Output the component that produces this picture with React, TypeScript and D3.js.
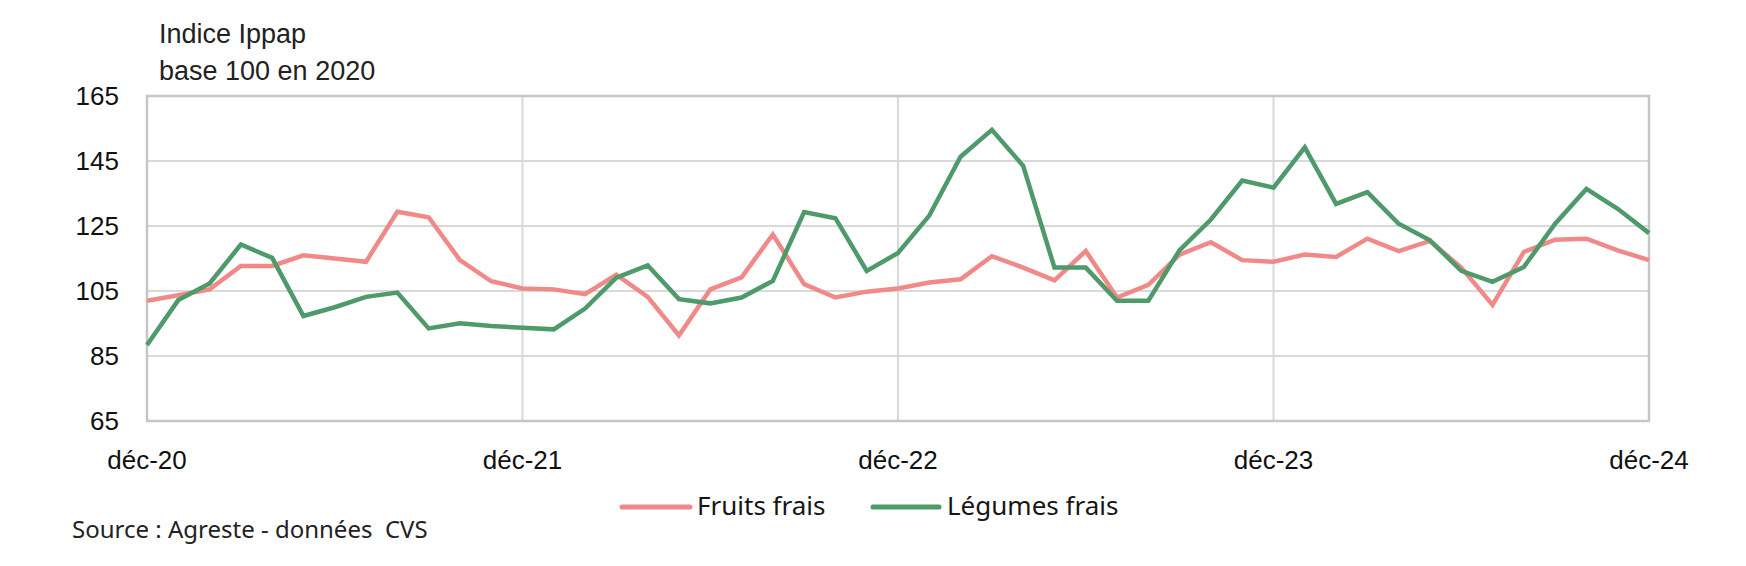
import React from "react";
import * as d3 from "d3";

const months: string[] = d3
  .timeMonth.range(new Date(2020, 11, 1), new Date(2025, 0, 1))
  .map((d) => d3.timeFormat("%Y-%m")(d));

const fruitsFrais: number[] = [
  102.0, 103.7, 105.5, 112.7, 112.7, 116.0, 115.0, 114.0, 129.4, 127.7, 114.5, 108.0,
  105.8, 105.5, 104.0, 110.0, 103.2, 91.3, 105.5, 109.2, 122.4, 107.1, 103.0, 104.8,
  105.8, 107.6, 108.6, 115.7, 112.2, 108.3, 117.3, 103.0, 106.9, 116.2, 120.0, 114.5,
  114.0, 116.2, 115.5, 121.1, 117.3, 120.4, 112.2, 100.7, 117.0, 120.8, 121.1, 117.5,
  114.5,
];

const legumesFrais: number[] = [
  88.4, 102.2, 107.3, 119.3, 115.2, 97.3, 100.0, 103.2, 104.5, 93.5, 95.1, 94.2,
  93.7, 93.2, 99.6, 109.1, 112.9, 102.5, 101.2, 103.0, 108.1, 129.3, 127.4, 111.2,
  116.7, 128.2, 146.3, 154.6, 143.5, 112.2, 112.2, 102.0, 102.0, 117.6, 127.0, 139.0,
  136.8, 149.2, 131.8, 135.4, 125.7, 120.6, 111.2, 107.8, 112.4, 125.7, 136.4, 130.3,
  122.8,
];

const xTickMonths: string[] = ["2020-12", "2021-12", "2022-12", "2023-12", "2024-12"];
const xTickLabels: string[] = ["déc-20", "déc-21", "déc-22", "déc-23", "déc-24"];
const yTicks: number[] = [65, 85, 105, 125, 145, 165];

const seriesNames: string[] = ["Fruits frais", "Légumes frais"];
const seriesColors: string[] = ["#F08A88", "#4F9A6B"];

const W = 1746;
const H = 566;
const L = 147;
const R = 1649;
const T = 96;
const B = 421;

export default function App() {
  const x = d3.scalePoint<string>().domain(months).range([L, R]).padding(0);
  const y = d3.scaleLinear().domain([65, 165]).range([B, T]);
  const line = d3
    .line<number>()
    .x((_, i) => x(months[i]) as number)
    .y((v) => y(v));

  const series = [fruitsFrais, legumesFrais];
  const axisFont = "'Liberation Sans', Arial, sans-serif";
  const textFont = "'Noto Sans', sans-serif";

  return (
    <svg
      width={W}
      height={H}
      style={{ position: "absolute", left: 0, top: 0, display: "block", background: "#fff" }}
    >
      <rect x={0} y={0} width={W} height={H} fill="#fff" />
      {yTicks.slice(1, -1).map((t) => (
        <line key={"h" + t} x1={L} x2={R} y1={y(t)} y2={y(t)} stroke="#D9D9D9" strokeWidth={2} />
      ))}
      {xTickMonths.slice(1, -1).map((m) => (
        <line key={"v" + m} x1={x(m)} x2={x(m)} y1={T} y2={B} stroke="#D9D9D9" strokeWidth={2} />
      ))}
      <rect x={L} y={T} width={R - L} height={B - T} fill="none" stroke="#C6C6C6" strokeWidth={2.5} />

      {yTicks.map((t) => (
        <text
          key={"yl" + t}
          x={119}
          y={y(t)}
          dy="0.35em"
          textAnchor="end"
          fontFamily={axisFont}
          fontSize={26}
          fill="#111"
        >
          {t}
        </text>
      ))}

      {xTickMonths.map((m, i) => (
        <text
          key={"xl" + m}
          x={x(m)}
          y={469}
          textAnchor="middle"
          fontFamily={axisFont}
          fontSize={26}
          fill="#111"
        >
          {xTickLabels[i]}
        </text>
      ))}

      <text x={159} y={43} fontFamily={axisFont} fontSize={27} fill="#222">
        Indice Ippap
      </text>
      <text x={159} y={80} fontFamily={axisFont} fontSize={27} fill="#222">
        base 100 en 2020
      </text>

      {series.map((s, i) => (
        <path
          key={"s" + i}
          d={line(s) || ""}
          fill="none"
          stroke={seriesColors[i]}
          strokeWidth={4.5}
          strokeLinejoin="miter"
        />
      ))}

      {[
        { x1: 622, x2: 690, tx: 697 },
        { x1: 873, x2: 939, tx: 947 },
      ].map((p, i) => (
        <g key={"lg" + i}>
          <line
            x1={p.x1}
            x2={p.x2}
            y1={507}
            y2={507}
            stroke={seriesColors[i]}
            strokeWidth={5}
            strokeLinecap="round"
          />
          <text x={p.tx} y={515} fontFamily={textFont} fontSize={26} fill="#161616">
            {seriesNames[i]}
          </text>
        </g>
      ))}

      <text x={72} y={538} fontFamily={textFont} fontSize={24} fill="#222">
        {"Source : Agreste - données\u00A0 CVS"}
      </text>
    </svg>
  );
}
